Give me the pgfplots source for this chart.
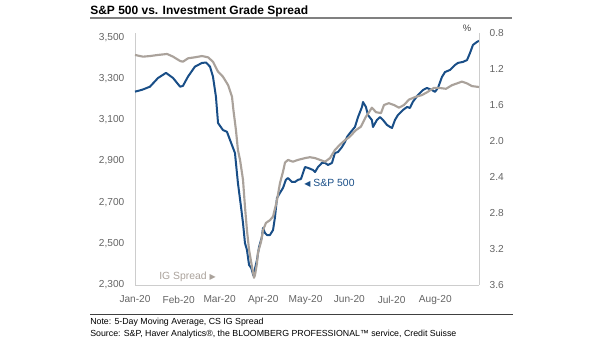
\documentclass[border=0pt]{standalone}
\usepackage{pgfplots}
\pgfplotsset{compat=1.18}
\usepackage{pgfplotstable}
\usepackage{fontspec}
\setmainfont{Liberation Sans}
\newfontfamily\symfont{DejaVu Sans}
\definecolor{spblue}{RGB}{25,78,135}
\definecolor{iggray}{RGB}{170,162,155}
\definecolor{ticktext}{RGB}{100,100,100}
\definecolor{axisgray}{RGB}{205,205,205}

\pgfplotstableread{
day val
0 3236
5 3245
10.6 3260
16.3 3302
22 3327
27 3302
32 3260
34 3264
37.6 3309
42.5 3357
47.5 3375
50.4 3377
53.2 3357
55.3 3309
57.4 3212
58.9 3084
62.4 3050
65.2 3042
67.4 3002
70.9 2939
73 2794
75.2 2678
76.6 2600
78 2503
79.4 2470
80.9 2397
82.5 2382
84 2345
86.5 2421
88 2484
90 2532
90.8 2576
92.2 2552
93.6 2542
95.7 2542
97.9 2566
99.3 2629
100.7 2721
102.8 2746
105 2770
107 2809
108.5 2818
111.3 2799
113.5 2799
115.6 2809
117.7 2813
120.6 2871
122.7 2867
126.2 2857
127.7 2847
129.8 2871
132.6 2891
134.8 2891
136.9 2881
139.7 2891
141.8 2939
144 2944
146.8 2968
149 2993
150.4 3017
152.5 3036
156 3065
158.2 3113
161 3162
161.7 3186
163.8 3162
165.2 3123
168 3099
168.8 3065
171.6 3099
173.8 3113
175.9 3099
178.7 3075
180.9 3065
182.3 3060
184.4 3099
186.5 3123
190 3147
193 3162
195 3157
197 3186
200.7 3220
204.3 3244
207 3254
210.6 3244
212.8 3235
214.9 3254
217.7 3307
219.9 3331
223.4 3341
227 3365
229 3375
232.6 3380
235.5 3389
237.6 3423
239.7 3462
242.6 3477
244 3482
}\spdata

\pgfplotstableread{
day val
0 1.044
5.7 1.063
10.6 1.056
16.3 1.044
22.7 1.033
27 1.063
32 1.111
34 1.119
37.6 1.081
42.5 1.07
47.5 1.056
51.8 1.07
55.3 1.119
58.9 1.23
62.4 1.286
66 1.378
68.8 1.508
69.8 1.656
71.6 1.878
73 2.1
74.5 2.21
76.6 2.43
78 2.73
79.4 2.99
80.9 3.21
83 3.4
84.4 3.52
85.1 3.49
86.5 3.36
87.2 3.24
89.4 3.12
90.8 2.99
92.9 2.91
95.7 2.88
97.9 2.84
100.7 2.66
102.8 2.47
105 2.34
106.4 2.24
108.5 2.21
112 2.23
115.6 2.21
120.6 2.19
124.1 2.18
127.7 2.19
131.2 2.21
134.8 2.23
138.3 2.19
141.8 2.1
145.4 2.04
149 1.99
151.8 1.96
156.7 1.88
160.3 1.84
163.8 1.73
166 1.68
168 1.63
171 1.68
174.5 1.69
176.6 1.6
180 1.58
183.7 1.6
187.2 1.63
190.8 1.6
194.3 1.54
199 1.51
203.5 1.49
207 1.46
212 1.41
215.6 1.41
220.6 1.42
224.8 1.38
228.4 1.36
231.9 1.34
235.5 1.36
239 1.39
244 1.4
}\igdata

\begin{document}
\begin{tikzpicture}
\begin{axis}[
  name=main,
  width=258pt, height=189pt, scale only axis,
  xmin=0, xmax=244, ymin=2300, ymax=3520,
  axis x line*=bottom, axis y line*=left,
  axis line style={draw=axisgray, line width=0.6pt},
  major tick length=0pt, tick style={draw=none},
  xtick={0,31,60,91,121,152,182,213},
  xticklabels={Jan-20,Feb-20,Mar-20,Apr-20,May-20,Jun-20,Jul-20,Aug-20},
  ytick={2300,2500,...,3500},
  /pgf/number format/assume math mode=true,
  /pgf/number format/1000 sep={,},
  ticklabel style={font=\fontsize{7.6}{9}\selectfont, text=ticktext},
  xticklabel style={yshift=-4.5pt},
  yticklabel style={xshift=-4.5pt},
  clip=false,
]
\addplot[color=spblue, line width=1.5pt, line join=round] table[x=day,y=val]{\spdata};
\node[anchor=west, inner sep=0pt, text=spblue, font=\fontsize{7.8}{9}\selectfont] at (axis cs:120,2794) {{\symfont\fontsize{6}{7}\selectfont ◀} S\&P 500};
\node[anchor=east, inner sep=0pt, text=iggray, font=\fontsize{7.8}{9}\selectfont] at (axis cs:57.5,2339) {IG Spread {\symfont\fontsize{6}{7}\selectfont ▶}};
\end{axis}

\begin{axis}[
  width=258pt, height=189pt, scale only axis,
  xmin=0, xmax=244, ymin=0.8, ymax=3.6, y dir=reverse,
  axis x line=none, axis y line*=right,
  axis line style={draw=axisgray, line width=0.6pt},
  major tick length=0pt, tick style={draw=none},
  ytick={0.8,1.2,...,3.6},
  /pgf/number format/assume math mode=true,
  yticklabel={\pgfmathprintnumber[fixed,fixed zerofill,precision=1]{\tick}},
  ticklabel style={font=\fontsize{7.6}{9}\selectfont, text=ticktext},
  yticklabel style={xshift=4.5pt},
  clip=false,
]
\addplot[color=iggray, line width=1.6pt, line join=round] table[x=day,y=val]{\igdata};
\end{axis}

\begin{scope}[x=0.75pt,y=0.75pt, shift={(main.south west)}]
\useasboundingbox (-135,-56) rectangle (470,285);
\node[font=\fontsize{7}{8}\selectfont, text=black!75] at (332,257) {\%};
\node[anchor=base west, inner sep=0pt, font=\bfseries\fontsize{9}{11}\selectfont] at (-45,270) {S\&P 500 vs. Investment Grade Spread};
\draw[line width=1.5pt, color=black!50] (-45,266.5) -- (377,266.5);
\draw[line width=0.7pt, color=black!75] (-45,-29) -- (378,-29);
\node[anchor=base west, inner sep=0pt, font=\fontsize{6.6}{8}\selectfont] at (-45,-40) {Note: 5-Day Moving Average, CS IG Spread};
\node[anchor=base west, inner sep=0pt, font=\fontsize{6.6}{8}\selectfont] at (-45,-51.5) {Source: S\&P, Haver Analytics®, the BLOOMBERG PROFESSIONAL™ service, Credit Suisse};
\end{scope}
\end{tikzpicture}
\end{document}
